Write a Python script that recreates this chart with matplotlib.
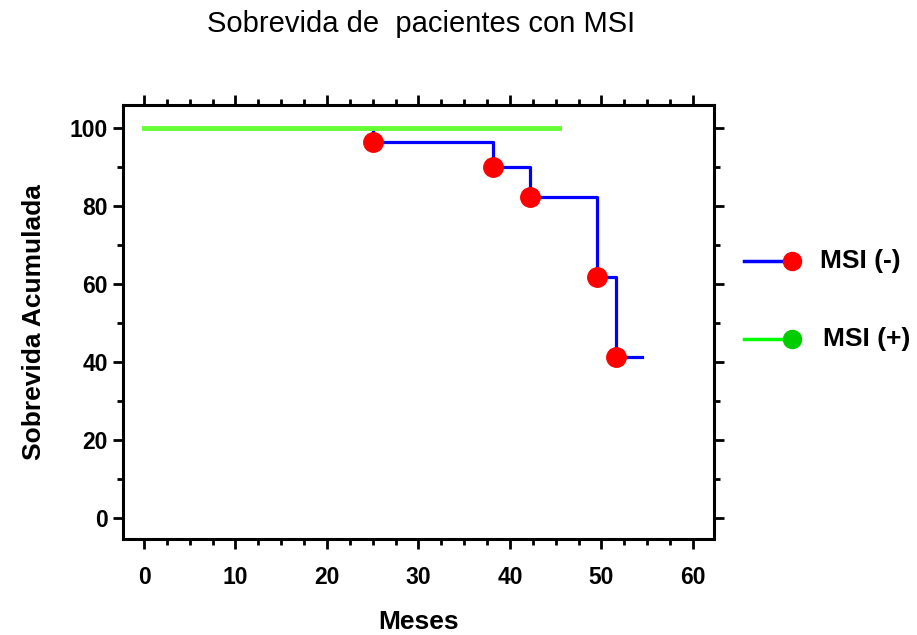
import matplotlib.pyplot as plt
from matplotlib.lines import Line2D
from matplotlib.ticker import MultipleLocator

plt.rcParams["font.family"] = ["Liberation Sans", "DejaVu Sans"]

# MSI (-): Kaplan-Meier steps (months, cumulative survival %)
neg_months = [0, 25.0, 38.1, 42.2, 49.5, 51.6, 54.4]
neg_surv = [100, 96.4, 90.1, 82.5, 61.9, 41.4, 41.4]
# events (marked with red dots)
event_months = [25.0, 38.1, 42.2, 49.5, 51.6]
event_surv = [96.4, 90.1, 82.5, 61.9, 41.4]
# MSI (+): no events
pos_months = [0, 45.4]
pos_surv = [100, 100]

series_labels = ["MSI (-)", "MSI (+)"]

fig = plt.figure(figsize=(9.17, 6.35), dpi=100)
ax = fig.add_axes([0.1345, 0.1507, 0.644, 0.684])

ax.step(neg_months, neg_surv, where="post", color="#0000ff", lw=2.3, zorder=2)
ax.plot(pos_months, pos_surv, color="#66ff33", lw=3.5, zorder=3)
ax.plot(event_months, event_surv, "o", color="#ff0000", ms=14, mec="#ff0000", zorder=4)

ax.set_xlim(-2.26, 62.3)
ax.set_ylim(-5.4, 106)
ax.xaxis.set_major_locator(MultipleLocator(10))
ax.xaxis.set_minor_locator(MultipleLocator(2.5))
ax.yaxis.set_major_locator(MultipleLocator(20))
ax.yaxis.set_minor_locator(MultipleLocator(10))
ax.tick_params(which="both", direction="out", top=True, right=True, width=2)
ax.tick_params(which="major", length=7)
ax.tick_params(which="minor", length=4)
ax.tick_params(axis="x", which="major", pad=12)
ax.tick_params(axis="y", which="major", pad=4)
for lab in ax.get_xticklabels() + ax.get_yticklabels():
    lab.set_fontsize(16.5)
    lab.set_fontweight("bold")
for sp in ax.spines.values():
    sp.set_linewidth(2.2)

ax.set_xlabel("Meses", fontsize=19, fontweight="bold", labelpad=15)
ax.set_ylabel("Sobrevida Acumulada", fontsize=19, fontweight="bold", labelpad=17)
fig.text(0.459, 1 - 24 / 635, "Sobrevida de  pacientes con MSI", ha="center", va="center", fontsize=21)

# legend drawn by hand: line with dot at its right end
W, H = 917, 635
legend_rows = [(261, "#0000ff", "#ff0000", 820), (339, "#00ff00", "#00cc00", 823)]
for (yy, lc, mc, tx), name in zip(legend_rows, series_labels):
    fig.add_artist(Line2D([744 / W, 792 / W], [1 - yy / H, 1 - yy / H], color=lc, lw=2.5))
    fig.add_artist(Line2D([792 / W], [1 - yy / H], marker="o", color=mc, ms=13, mec=mc))
    fig.text(tx / W, 1 - yy / H, name, fontsize=19, fontweight="bold", va="center", ha="left")

fig.savefig("out.png", dpi=100)
